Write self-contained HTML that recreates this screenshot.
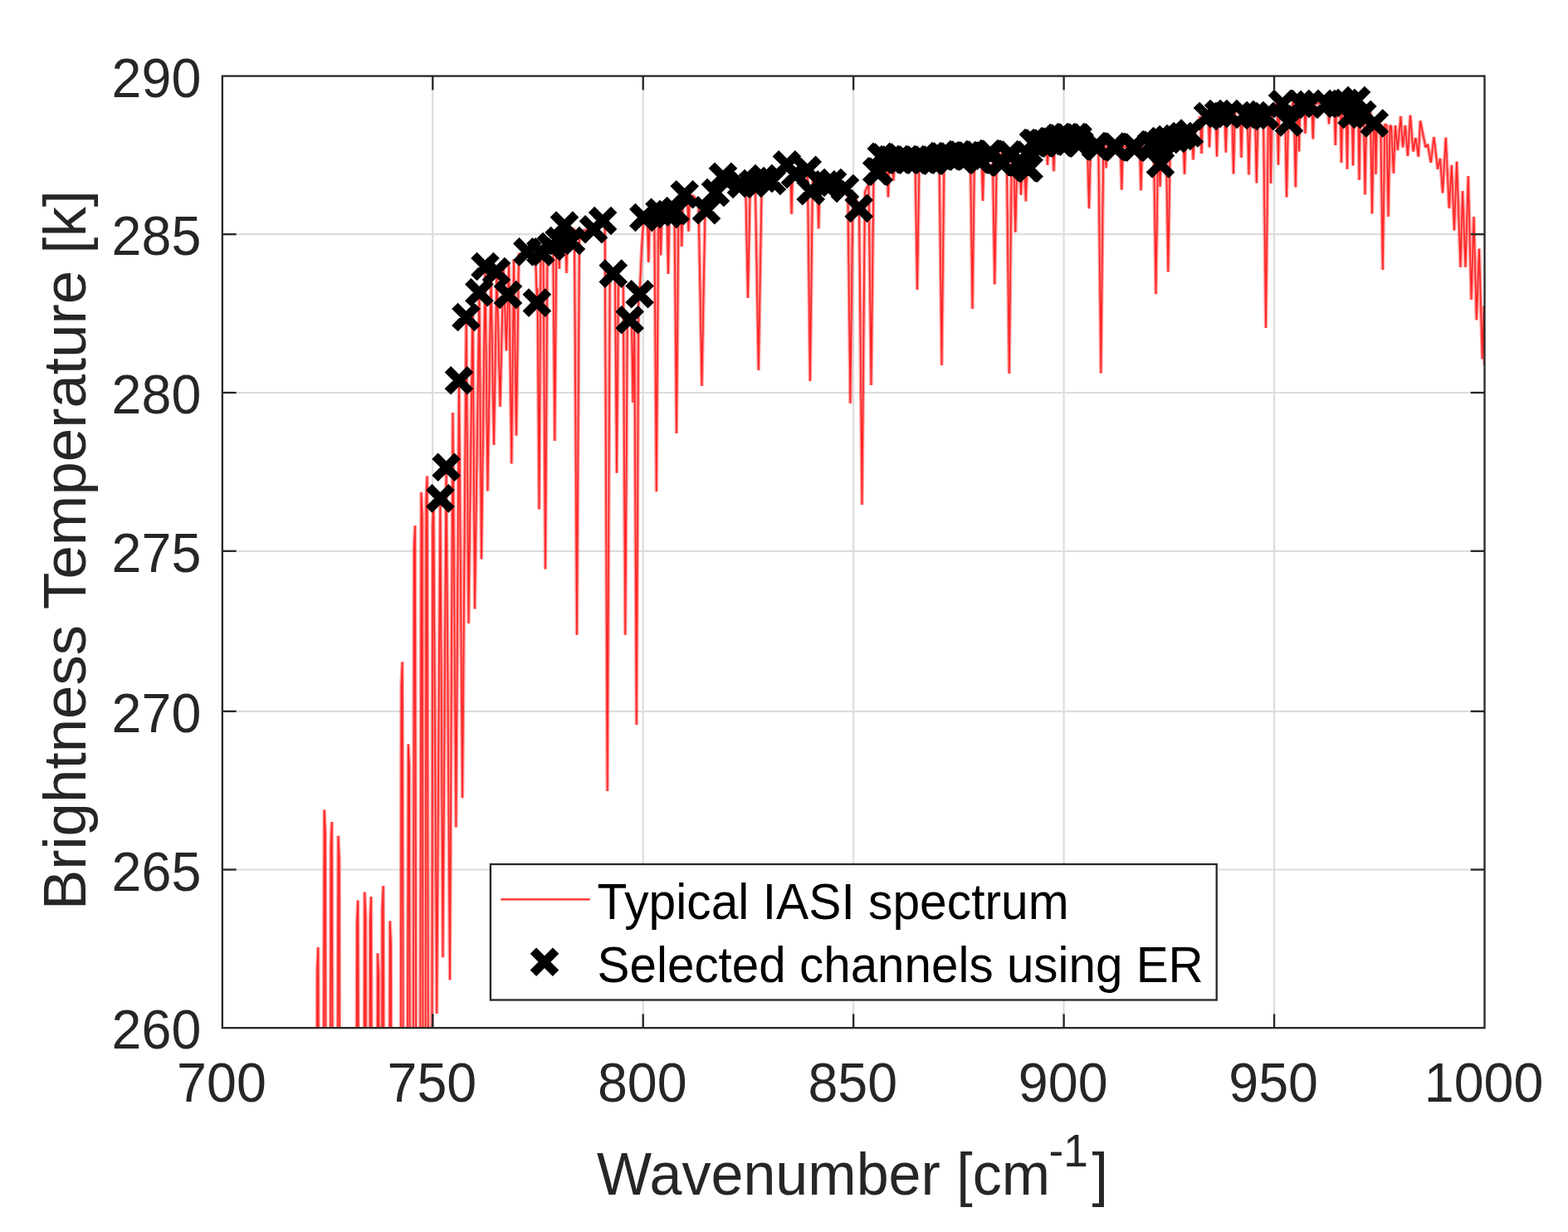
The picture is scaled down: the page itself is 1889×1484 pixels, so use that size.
<!DOCTYPE html>
<html lang="en"><head><meta charset="utf-8"><title>Typical IASI spectrum with selected channels</title>
<style>
html,body{margin:0;padding:0;background:#fff;}
body{width:1889px;height:1484px;overflow:hidden;font-family:"Liberation Sans",Arial,Helvetica,sans-serif;}
svg{display:block;}
text{font-family:"Liberation Sans",Arial,Helvetica,sans-serif;}
</style></head>
<body>
<svg width="1889" height="1484" viewBox="0 0 1889 1484">
<defs>
<clipPath id="ax"><rect x="267.85" y="91.6" width="1520.65" height="1146.5500000000002"/></clipPath>
</defs>
<rect width="1889" height="1484" fill="#fff"/>
<g stroke="#dddddd" stroke-width="2.2" fill="none"><line x1="521.29" y1="91" x2="521.29" y2="1238"/><line x1="774.73" y1="91" x2="774.73" y2="1238"/><line x1="1028.18" y1="91" x2="1028.18" y2="1238"/><line x1="1281.62" y1="91" x2="1281.62" y2="1238"/><line x1="1535.06" y1="91" x2="1535.06" y2="1238"/><line x1="267" y1="1047.5" x2="1788" y2="1047.5"/><line x1="267" y1="856.8" x2="1788" y2="856.8"/><line x1="267" y1="663.8" x2="1788" y2="663.8"/><line x1="267" y1="473" x2="1788" y2="473"/><line x1="267" y1="282.2" x2="1788" y2="282.2"/></g>
<g clip-path="url(#ax)">
<polyline points="380.6,1900 382.1,1169 383.3,1141 385.6,1900 388.4,1900 390.7,975.4 391.9,1003.4 393.4,1900 397.1,1900 398.6,1018 399.8,990 402.1,1900 405.2,1900 407.5,1006.7 408.7,1034.7 410.2,1900 428.5,1900 430,1112.6 431.2,1084.6 433.5,1900 437,1900 439.3,1074.5 440.5,1102.5 442,1900 444.4,1900 445.9,1108.1 447.1,1080.1 449.4,1900 452.7,1900 455,1148.2 456.2,1176.2 457.7,1900 459,1900 460.5,1095 461.7,1067 464,1900 467.5,1900 469.8,1109.4 471,1137.4 472.5,1900 482,1900 483.5,825.3 484.7,797.3 487,1900 489.6,1900 491.9,896.4 493.1,924.4 494.6,1900 497.3,1900 498.8,661 500,633 502.3,1900 505.2,1900 507.5,593 508.7,621 510.2,1900 511.9,1900 513.4,601.5 514.6,573.5 516.9,1900 519.6,1900 521.2,632 522.3,605 526.2,1221 530.4,600.4 533.5,1153.3 537.6,562.8 542,1180.6 545.5,497 549.4,996.6 553,458.3 557.1,961.2 561.7,382 564.5,751 569.5,365 572,733.5 577.4,352 580,673.5 584.5,321 587.5,591.5 591.5,330 595,536 598.5,327 602.5,490 606.5,322 610,422.5 613,318 616.3,558.5 619,312 622,524.8 625,306 628,306 635,303 645,304 646.9,364.6 647.5,347.29 649.5,613.5 651.5,303.17 652,303 654.5,301.44 657,685.5 659.5,298.31 660,298 666,292 666.3,291.79 668.3,531 670.3,288.93 672.3,287.5 673.8,324 675.3,282.07 680,272 681,272.4 682.5,329 684,273.6 690,276 692,276.4 695,764.8 698,277.6 700,278 715,276 726,266 728.7,267.8 731.7,953 734.7,334.87 738.8,329.6 740.5,333 741,333.4 743,569.8 745,336.6 745.5,337 750.5,342 750.8,344.51 753.3,764.8 755.8,386.33 756,388 758.7,385.3 761,392 761,392 762.5,485 764,395 764,395 764.3,393.06 766.8,873 769.3,360.65 769.4,360 770.6,354.3 773,300 775.4,262 779.8,260.17 781.3,316 782.8,258.92 785,258 788.3,257.34 790.8,592.3 793.3,256.34 794.5,256.1 796,307.5 797.5,255.72 803.5,255.06 805,330 806.5,254.72 812.5,254.06 815,522 817.5,245 819.8,240.4 821.3,297 822.8,236.64 825,234 828,234.6 829.5,278.7 831,235.2 835,236 841.5,242.91 845.5,465 849.5,251.41 851,253 858,240 862,232 871,213 880,216 893,222 898.2,221.63 901,359 903.8,221.23 907,221 909.8,219.71 913.8,446 917.8,216.02 920,215 930,216 940,205 948,198.4 952.1,201.11 953.6,258 955.1,203.09 958,205 972.7,204.8 972.9,206.06 975.9,459 978.9,220 980,215 984.7,217.19 986.2,275.5 987.7,218.59 995,222 1018,227 1021.4,229.27 1024.4,486 1027.4,233.27 1030,235 1034.7,251 1035,250.09 1038.5,608 1042,231 1046.5,222 1049.5,464 1052.5,211.25 1056,206 1062,189 1068.5,190.95 1070,237.4 1071.5,191.85 1072,192 1074.9,192.06 1076.4,217.5 1077.9,192.12 1102.5,192.61 1105,349 1107.5,192.71 1122,193 1131.5,188.68 1134.5,440 1137.5,187.86 1165,187 1169,186.7 1171.5,372 1174,186.33 1182.5,185.7 1184,242 1185.5,185.48 1192,185 1195.8,185.16 1198.3,342.5 1200.8,185.37 1212.8,185.87 1215.8,450 1218.8,188.1 1221.3,189.97 1223.3,280 1225.3,192.97 1228,195 1228.5,195.39 1230,235 1231.5,197.72 1234.3,199.9 1235.8,242.5 1237.3,200.73 1241,185 1245,172 1260.5,170.45 1262,198.8 1263.5,170.15 1265,170 1268,169.23 1269.5,206.3 1271,168.46 1284.5,165 1296,166 1309.5,175 1310,175.02 1312,251.3 1314,175.17 1323.3,175.51 1326.3,449.5 1329.3,175.73 1331,175.8 1332.5,202.5 1334,175.91 1349.8,176.49 1351.3,228.8 1352.8,176.6 1373,177.35 1374.5,229.5 1376,177.46 1377,177.5 1388,172 1390,175.71 1392.5,354.3 1395,185 1395,185 1396.3,190.42 1397.5,225 1398.7,192.25 1401,175 1404.8,169.93 1407.3,327.5 1409.8,166.81 1422,166 1425.5,164.83 1427,210 1428.5,163.83 1436,161.33 1437.5,192.5 1439,160.33 1440,160 1446,140 1446,140 1447.5,185 1449,134.75 1450,133 1455.5,133.28 1457,177.5 1458.5,133.43 1464.5,133.72 1466,188.8 1467.5,133.88 1470,134 1475.3,134 1476.8,183.8 1478.3,134 1484.2,134 1486,209.5 1487.8,134 1489,134 1494,134.83 1495.5,190 1497,135.33 1502.7,136.28 1504.5,210.5 1506.3,136.88 1510,137.5 1512,137.3 1513.8,220.5 1515.6,136.94 1522,136.3 1525,395 1528,133 1529.5,131.5 1531,221 1532.5,128.5 1535,126 1538.5,125 1540,198.8 1541.5,124.14 1542,124 1548,130 1548,130 1550,237.5 1552,142.97 1553.8,148.8 1557.5,123 1558.8,123.09 1560.8,225.5 1562.8,123.37 1563.8,123.44 1565,182.5 1566.2,123.61 1571,123.95 1572.5,161 1574,124.16 1580.3,124.6 1581.8,167.5 1583.3,124.81 1586,125 1599.5,123.22 1601,149.5 1602.5,122.83 1605,122.5 1607.3,122.3 1608.8,175 1610.3,122.03 1614.5,121.66 1616,196 1617.5,121.4 1621.5,121.04 1623,203.8 1624.5,120.38 1628.5,119.38 1630,199.5 1631.5,118.62 1634,118 1636,120.33 1637.5,217 1639,123.83 1640,125 1642.7,127.43 1644.5,234.5 1646.3,130.67 1650,134 1651,135.63 1653,257.5 1655,142.16 1656.3,144.28 1657.5,210 1658.7,148.19 1659.5,149.5 1663.3,149.72 1665.8,325 1668.3,150.07 1670.5,150.62 1672.5,261 1674.5,151.62 1676,152 1678.8,208.8 1681,151 1683.8,181 1687.5,140 1690,177.5 1693,151 1696,188 1699,138.8 1702.5,182.5 1705.5,166 1708.8,188.8 1711,145.5 1717.5,177.5 1720,173.8 1723.8,196 1727.5,165 1732,203.8 1735,191 1738,232.5 1741.8,165.5 1745.8,251 1748.8,198.8 1752,277.5 1755,194.5 1759.5,322 1762,230 1765.5,322 1768.8,212 1772.5,361 1775.5,261 1778.8,385.5 1782,299.5 1785.8,432.5 1787.5,368.8 1788.5,440" fill="none" stroke="#ff0000" stroke-opacity="0.38" stroke-width="4.4" stroke-linejoin="bevel"/>
<polyline points="380.6,1900 382.1,1169 383.3,1141 385.6,1900 388.4,1900 390.7,975.4 391.9,1003.4 393.4,1900 397.1,1900 398.6,1018 399.8,990 402.1,1900 405.2,1900 407.5,1006.7 408.7,1034.7 410.2,1900 428.5,1900 430,1112.6 431.2,1084.6 433.5,1900 437,1900 439.3,1074.5 440.5,1102.5 442,1900 444.4,1900 445.9,1108.1 447.1,1080.1 449.4,1900 452.7,1900 455,1148.2 456.2,1176.2 457.7,1900 459,1900 460.5,1095 461.7,1067 464,1900 467.5,1900 469.8,1109.4 471,1137.4 472.5,1900 482,1900 483.5,825.3 484.7,797.3 487,1900 489.6,1900 491.9,896.4 493.1,924.4 494.6,1900 497.3,1900 498.8,661 500,633 502.3,1900 505.2,1900 507.5,593 508.7,621 510.2,1900 511.9,1900 513.4,601.5 514.6,573.5 516.9,1900 519.6,1900 521.2,632 522.3,605 526.2,1221 530.4,600.4 533.5,1153.3 537.6,562.8 542,1180.6 545.5,497 549.4,996.6 553,458.3 557.1,961.2 561.7,382 564.5,751 569.5,365 572,733.5 577.4,352 580,673.5 584.5,321 587.5,591.5 591.5,330 595,536 598.5,327 602.5,490 606.5,322 610,422.5 613,318 616.3,558.5 619,312 622,524.8 625,306 628,306 635,303 645,304 646.9,364.6 647.5,347.29 649.5,613.5 651.5,303.17 652,303 654.5,301.44 657,685.5 659.5,298.31 660,298 666,292 666.3,291.79 668.3,531 670.3,288.93 672.3,287.5 673.8,324 675.3,282.07 680,272 681,272.4 682.5,329 684,273.6 690,276 692,276.4 695,764.8 698,277.6 700,278 715,276 726,266 728.7,267.8 731.7,953 734.7,334.87 738.8,329.6 740.5,333 741,333.4 743,569.8 745,336.6 745.5,337 750.5,342 750.8,344.51 753.3,764.8 755.8,386.33 756,388 758.7,385.3 761,392 761,392 762.5,485 764,395 764,395 764.3,393.06 766.8,873 769.3,360.65 769.4,360 770.6,354.3 773,300 775.4,262 779.8,260.17 781.3,316 782.8,258.92 785,258 788.3,257.34 790.8,592.3 793.3,256.34 794.5,256.1 796,307.5 797.5,255.72 803.5,255.06 805,330 806.5,254.72 812.5,254.06 815,522 817.5,245 819.8,240.4 821.3,297 822.8,236.64 825,234 828,234.6 829.5,278.7 831,235.2 835,236 841.5,242.91 845.5,465 849.5,251.41 851,253 858,240 862,232 871,213 880,216 893,222 898.2,221.63 901,359 903.8,221.23 907,221 909.8,219.71 913.8,446 917.8,216.02 920,215 930,216 940,205 948,198.4 952.1,201.11 953.6,258 955.1,203.09 958,205 972.7,204.8 972.9,206.06 975.9,459 978.9,220 980,215 984.7,217.19 986.2,275.5 987.7,218.59 995,222 1018,227 1021.4,229.27 1024.4,486 1027.4,233.27 1030,235 1034.7,251 1035,250.09 1038.5,608 1042,231 1046.5,222 1049.5,464 1052.5,211.25 1056,206 1062,189 1068.5,190.95 1070,237.4 1071.5,191.85 1072,192 1074.9,192.06 1076.4,217.5 1077.9,192.12 1102.5,192.61 1105,349 1107.5,192.71 1122,193 1131.5,188.68 1134.5,440 1137.5,187.86 1165,187 1169,186.7 1171.5,372 1174,186.33 1182.5,185.7 1184,242 1185.5,185.48 1192,185 1195.8,185.16 1198.3,342.5 1200.8,185.37 1212.8,185.87 1215.8,450 1218.8,188.1 1221.3,189.97 1223.3,280 1225.3,192.97 1228,195 1228.5,195.39 1230,235 1231.5,197.72 1234.3,199.9 1235.8,242.5 1237.3,200.73 1241,185 1245,172 1260.5,170.45 1262,198.8 1263.5,170.15 1265,170 1268,169.23 1269.5,206.3 1271,168.46 1284.5,165 1296,166 1309.5,175 1310,175.02 1312,251.3 1314,175.17 1323.3,175.51 1326.3,449.5 1329.3,175.73 1331,175.8 1332.5,202.5 1334,175.91 1349.8,176.49 1351.3,228.8 1352.8,176.6 1373,177.35 1374.5,229.5 1376,177.46 1377,177.5 1388,172 1390,175.71 1392.5,354.3 1395,185 1395,185 1396.3,190.42 1397.5,225 1398.7,192.25 1401,175 1404.8,169.93 1407.3,327.5 1409.8,166.81 1422,166 1425.5,164.83 1427,210 1428.5,163.83 1436,161.33 1437.5,192.5 1439,160.33 1440,160 1446,140 1446,140 1447.5,185 1449,134.75 1450,133 1455.5,133.28 1457,177.5 1458.5,133.43 1464.5,133.72 1466,188.8 1467.5,133.88 1470,134 1475.3,134 1476.8,183.8 1478.3,134 1484.2,134 1486,209.5 1487.8,134 1489,134 1494,134.83 1495.5,190 1497,135.33 1502.7,136.28 1504.5,210.5 1506.3,136.88 1510,137.5 1512,137.3 1513.8,220.5 1515.6,136.94 1522,136.3 1525,395 1528,133 1529.5,131.5 1531,221 1532.5,128.5 1535,126 1538.5,125 1540,198.8 1541.5,124.14 1542,124 1548,130 1548,130 1550,237.5 1552,142.97 1553.8,148.8 1557.5,123 1558.8,123.09 1560.8,225.5 1562.8,123.37 1563.8,123.44 1565,182.5 1566.2,123.61 1571,123.95 1572.5,161 1574,124.16 1580.3,124.6 1581.8,167.5 1583.3,124.81 1586,125 1599.5,123.22 1601,149.5 1602.5,122.83 1605,122.5 1607.3,122.3 1608.8,175 1610.3,122.03 1614.5,121.66 1616,196 1617.5,121.4 1621.5,121.04 1623,203.8 1624.5,120.38 1628.5,119.38 1630,199.5 1631.5,118.62 1634,118 1636,120.33 1637.5,217 1639,123.83 1640,125 1642.7,127.43 1644.5,234.5 1646.3,130.67 1650,134 1651,135.63 1653,257.5 1655,142.16 1656.3,144.28 1657.5,210 1658.7,148.19 1659.5,149.5 1663.3,149.72 1665.8,325 1668.3,150.07 1670.5,150.62 1672.5,261 1674.5,151.62 1676,152 1678.8,208.8 1681,151 1683.8,181 1687.5,140 1690,177.5 1693,151 1696,188 1699,138.8 1702.5,182.5 1705.5,166 1708.8,188.8 1711,145.5 1717.5,177.5 1720,173.8 1723.8,196 1727.5,165 1732,203.8 1735,191 1738,232.5 1741.8,165.5 1745.8,251 1748.8,198.8 1752,277.5 1755,194.5 1759.5,322 1762,230 1765.5,322 1768.8,212 1772.5,361 1775.5,261 1778.8,385.5 1782,299.5 1785.8,432.5 1787.5,368.8 1788.5,440" fill="none" stroke="#ff2626" stroke-width="1.7" stroke-linejoin="miter" stroke-miterlimit="2"/>
<path d="M516.8,586.8l27.2,27.2M516.8,614l27.2,-27.2M524,549.2l27.2,27.2M524,576.4l27.2,-27.2M539.4,444.7l27.2,27.2M539.4,471.9l27.2,-27.2M547.9,368.4l27.2,27.2M547.9,395.6l27.2,-27.2M563.8,338.7l27.2,27.2M563.8,365.9l27.2,-27.2M570.9,307.4l27.2,27.2M570.9,334.6l27.2,-27.2M584.4,313.4l27.2,27.2M584.4,340.6l27.2,-27.2M598.4,341.4l27.2,27.2M598.4,368.6l27.2,-27.2M621.8,289.8l27.2,27.2M621.8,317l27.2,-27.2M633.3,351l27.2,27.2M633.3,378.2l27.2,-27.2M637.7,289.8l27.2,27.2M637.7,317l27.2,-27.2M650.4,283.4l27.2,27.2M650.4,310.6l27.2,-27.2M660,276.4l27.2,27.2M660,303.6l27.2,-27.2M666.4,258l27.2,27.2M666.4,285.2l27.2,-27.2M674.4,276.4l27.2,27.2M674.4,303.6l27.2,-27.2M701.4,262.7l27.2,27.2M701.4,289.9l27.2,-27.2M712.5,252.4l27.2,27.2M712.5,279.6l27.2,-27.2M725.2,316l27.2,27.2M725.2,343.2l27.2,-27.2M745.1,371.7l27.2,27.2M745.1,398.9l27.2,-27.2M757,340.7l27.2,27.2M757,367.9l27.2,-27.2M761.8,248.4l27.2,27.2M761.8,275.6l27.2,-27.2M780.9,242.1l27.2,27.2M780.9,269.3l27.2,-27.2M791.4,244.4l27.2,27.2M791.4,271.6l27.2,-27.2M800,240.4l27.2,27.2M800,267.6l27.2,-27.2M811.1,220.6l27.2,27.2M811.1,247.8l27.2,-27.2M837.4,239.7l27.2,27.2M837.4,266.9l27.2,-27.2M848.4,218.4l27.2,27.2M848.4,245.6l27.2,-27.2M857.4,199.1l27.2,27.2M857.4,226.3l27.2,-27.2M879.4,208.4l27.2,27.2M879.4,235.6l27.2,-27.2M893.4,207.4l27.2,27.2M893.4,234.6l27.2,-27.2M906.4,201.4l27.2,27.2M906.4,228.6l27.2,-27.2M916.4,204.4l27.2,27.2M916.4,231.6l27.2,-27.2M934.4,184.8l27.2,27.2M934.4,212l27.2,-27.2M944.4,196.4l27.2,27.2M944.4,223.6l27.2,-27.2M959.1,191.2l27.2,27.2M959.1,218.4l27.2,-27.2M963.1,216.6l27.2,27.2M963.1,243.8l27.2,-27.2M981.4,208.7l27.2,27.2M981.4,235.9l27.2,-27.2M989.4,206.4l27.2,27.2M989.4,233.6l27.2,-27.2M1004.4,213.4l27.2,27.2M1004.4,240.6l27.2,-27.2M1021.1,237.3l27.2,27.2M1021.1,264.5l27.2,-27.2M1042.6,192.7l27.2,27.2M1042.6,219.9l27.2,-27.2M1048.2,175.3l27.2,27.2M1048.2,202.5l27.2,-27.2M1058.4,178.4l27.2,27.2M1058.4,205.6l27.2,-27.2M1068.4,178.4l27.2,27.2M1068.4,205.6l27.2,-27.2M1078.4,178.4l27.2,27.2M1078.4,205.6l27.2,-27.2M1088.4,178.4l27.2,27.2M1088.4,205.6l27.2,-27.2M1098.4,178.4l27.2,27.2M1098.4,205.6l27.2,-27.2M1108.4,179.4l27.2,27.2M1108.4,206.6l27.2,-27.2M1119.4,174.4l27.2,27.2M1119.4,201.6l27.2,-27.2M1129.4,174.4l27.2,27.2M1129.4,201.6l27.2,-27.2M1141.4,172.4l27.2,27.2M1141.4,199.6l27.2,-27.2M1151.4,173.4l27.2,27.2M1151.4,200.6l27.2,-27.2M1164.4,178.4l27.2,27.2M1164.4,205.6l27.2,-27.2M1178.4,171.4l27.2,27.2M1178.4,198.6l27.2,-27.2M1191.4,181.4l27.2,27.2M1191.4,208.6l27.2,-27.2M1202.2,172.4l27.2,27.2M1202.2,199.6l27.2,-27.2M1214.4,181.4l27.2,27.2M1214.4,208.6l27.2,-27.2M1223.4,188.4l27.2,27.2M1223.4,215.6l27.2,-27.2M1231.4,158.4l27.2,27.2M1231.4,185.6l27.2,-27.2M1241.4,158.4l27.2,27.2M1241.4,185.6l27.2,-27.2M1251.4,156.4l27.2,27.2M1251.4,183.6l27.2,-27.2M1261.4,152.4l27.2,27.2M1261.4,179.6l27.2,-27.2M1270.9,151.4l27.2,27.2M1270.9,178.6l27.2,-27.2M1282.4,151.4l27.2,27.2M1282.4,178.6l27.2,-27.2M1284.4,158.4l27.2,27.2M1284.4,185.6l27.2,-27.2M1306.4,162.4l27.2,27.2M1306.4,189.6l27.2,-27.2M1328.4,162.9l27.2,27.2M1328.4,190.1l27.2,-27.2M1351.4,163.4l27.2,27.2M1351.4,190.6l27.2,-27.2M1373.4,160.4l27.2,27.2M1373.4,187.6l27.2,-27.2M1384.4,183.9l27.2,27.2M1384.4,211.1l27.2,-27.2M1385.9,156.4l27.2,27.2M1385.9,183.6l27.2,-27.2M1393.4,154.4l27.2,27.2M1393.4,181.6l27.2,-27.2M1402.4,153.4l27.2,27.2M1402.4,180.6l27.2,-27.2M1410.4,150.4l27.2,27.2M1410.4,177.6l27.2,-27.2M1419.4,146.9l27.2,27.2M1419.4,174.1l27.2,-27.2M1441.4,126.4l27.2,27.2M1441.4,153.6l27.2,-27.2M1454.4,123.4l27.2,27.2M1454.4,150.6l27.2,-27.2M1466.4,123.4l27.2,27.2M1466.4,150.6l27.2,-27.2M1486.4,124.4l27.2,27.2M1486.4,151.6l27.2,-27.2M1498.4,125.4l27.2,27.2M1498.4,152.6l27.2,-27.2M1510.4,126.4l27.2,27.2M1510.4,153.6l27.2,-27.2M1531.4,111.4l27.2,27.2M1531.4,138.6l27.2,-27.2M1539.4,133.9l27.2,27.2M1539.4,161.1l27.2,-27.2M1553.4,111.4l27.2,27.2M1553.4,138.6l27.2,-27.2M1563.4,112.4l27.2,27.2M1563.4,139.6l27.2,-27.2M1584.4,111.4l27.2,27.2M1584.4,138.6l27.2,-27.2M1598.4,111.4l27.2,27.2M1598.4,138.6l27.2,-27.2M1608.4,110.4l27.2,27.2M1608.4,137.6l27.2,-27.2M1620.4,107.4l27.2,27.2M1620.4,134.6l27.2,-27.2M1615,124.4l27.2,27.2M1615,151.6l27.2,-27.2M1627.7,124.4l27.2,27.2M1627.7,151.6l27.2,-27.2M1642.2,134.9l27.2,27.2M1642.2,162.1l27.2,-27.2M1045.2,193.3l27.2,27.2M1045.2,220.5l27.2,-27.2M1050.8,175.9l27.2,27.2M1050.8,203.1l27.2,-27.2M1061,179l27.2,27.2M1061,206.2l27.2,-27.2M1071,179l27.2,27.2M1071,206.2l27.2,-27.2M1081,179l27.2,27.2M1081,206.2l27.2,-27.2M1091,179l27.2,27.2M1091,206.2l27.2,-27.2M1101,179l27.2,27.2M1101,206.2l27.2,-27.2M1111,180l27.2,27.2M1111,207.2l27.2,-27.2M1122,175l27.2,27.2M1122,202.2l27.2,-27.2M1132,175l27.2,27.2M1132,202.2l27.2,-27.2M1144,173l27.2,27.2M1144,200.2l27.2,-27.2M1154,174l27.2,27.2M1154,201.2l27.2,-27.2M1167,179l27.2,27.2M1167,206.2l27.2,-27.2M1181,172l27.2,27.2M1181,199.2l27.2,-27.2M1194,182l27.2,27.2M1194,209.2l27.2,-27.2M1204.8,173l27.2,27.2M1204.8,200.2l27.2,-27.2M1217,182l27.2,27.2M1217,209.2l27.2,-27.2M1226,189l27.2,27.2M1226,216.2l27.2,-27.2M1234,159l27.2,27.2M1234,186.2l27.2,-27.2M1244,159l27.2,27.2M1244,186.2l27.2,-27.2M1254,157l27.2,27.2M1254,184.2l27.2,-27.2M1264,153l27.2,27.2M1264,180.2l27.2,-27.2M1273.5,152l27.2,27.2M1273.5,179.2l27.2,-27.2M1285,152l27.2,27.2M1285,179.2l27.2,-27.2M1287,159l27.2,27.2M1287,186.2l27.2,-27.2M1309,163l27.2,27.2M1309,190.2l27.2,-27.2M1331,163.5l27.2,27.2M1331,190.7l27.2,-27.2M1354,164l27.2,27.2M1354,191.2l27.2,-27.2M1376,161l27.2,27.2M1376,188.2l27.2,-27.2" stroke="#000" stroke-width="10.5" fill="none"/>
</g>
<rect x="267.85" y="91.6" width="1520.65" height="1146.5500000000002" fill="none" stroke="#262626" stroke-width="2.3"/>
<g stroke="#262626" stroke-width="2.3" fill="none"><line x1="521.29" y1="1238" x2="521.29" y2="1221.35"/><line x1="521.29" y1="91" x2="521.29" y2="108.4"/><line x1="774.73" y1="1238" x2="774.73" y2="1221.35"/><line x1="774.73" y1="91" x2="774.73" y2="108.4"/><line x1="1028.18" y1="1238" x2="1028.18" y2="1221.35"/><line x1="1028.18" y1="91" x2="1028.18" y2="108.4"/><line x1="1281.62" y1="1238" x2="1281.62" y2="1221.35"/><line x1="1281.62" y1="91" x2="1281.62" y2="108.4"/><line x1="1535.06" y1="1238" x2="1535.06" y2="1221.35"/><line x1="1535.06" y1="91" x2="1535.06" y2="108.4"/><line x1="267" y1="1047.5" x2="284.65" y2="1047.5"/><line x1="1788" y1="1047.5" x2="1771.7" y2="1047.5"/><line x1="267" y1="856.8" x2="284.65" y2="856.8"/><line x1="1788" y1="856.8" x2="1771.7" y2="856.8"/><line x1="267" y1="663.8" x2="284.65" y2="663.8"/><line x1="1788" y1="663.8" x2="1771.7" y2="663.8"/><line x1="267" y1="473" x2="284.65" y2="473"/><line x1="1788" y1="473" x2="1771.7" y2="473"/><line x1="267" y1="282.2" x2="284.65" y2="282.2"/><line x1="1788" y1="282.2" x2="1771.7" y2="282.2"/></g>
<g fill="#262626"><text x="266.95" y="1327" font-size="66" text-anchor="middle" textLength="107.7" lengthAdjust="spacingAndGlyphs">700</text><text x="520.39" y="1327" font-size="66" text-anchor="middle" textLength="107.7" lengthAdjust="spacingAndGlyphs">750</text><text x="773.83" y="1327" font-size="66" text-anchor="middle" textLength="107.7" lengthAdjust="spacingAndGlyphs">800</text><text x="1027.28" y="1327" font-size="66" text-anchor="middle" textLength="107.7" lengthAdjust="spacingAndGlyphs">850</text><text x="1280.72" y="1327" font-size="66" text-anchor="middle" textLength="107.7" lengthAdjust="spacingAndGlyphs">900</text><text x="1534.16" y="1327" font-size="66" text-anchor="middle" textLength="107.7" lengthAdjust="spacingAndGlyphs">950</text><text x="1787.6" y="1327" font-size="66" text-anchor="middle" textLength="143.6" lengthAdjust="spacingAndGlyphs">1000</text><text x="242.3" y="1263.15" font-size="66" text-anchor="end" textLength="107.7" lengthAdjust="spacingAndGlyphs">260</text><text x="242.3" y="1072.5" font-size="66" text-anchor="end" textLength="107.7" lengthAdjust="spacingAndGlyphs">265</text><text x="242.3" y="881.8" font-size="66" text-anchor="end" textLength="107.7" lengthAdjust="spacingAndGlyphs">270</text><text x="242.3" y="688.8" font-size="66" text-anchor="end" textLength="107.7" lengthAdjust="spacingAndGlyphs">275</text><text x="242.3" y="498" font-size="66" text-anchor="end" textLength="107.7" lengthAdjust="spacingAndGlyphs">280</text><text x="242.3" y="307.2" font-size="66" text-anchor="end" textLength="107.7" lengthAdjust="spacingAndGlyphs">285</text><text x="242.3" y="116.6" font-size="66" text-anchor="end" textLength="107.7" lengthAdjust="spacingAndGlyphs">290</text></g>
<g fill="#262626"><text x="719" y="1439.3" font-size="72.5" textLength="546.16" lengthAdjust="spacingAndGlyphs">Wavenumber [cm</text><text x="1263.5" y="1405.3" font-size="56" textLength="47.3" lengthAdjust="spacingAndGlyphs">-1</text><text x="1315.4" y="1439.3" font-size="72.5" textLength="19.46" lengthAdjust="spacingAndGlyphs">]</text></g>
<text transform="translate(102.6,662.6) rotate(-90)" font-size="72.7" fill="#262626" text-anchor="middle">Brightness Temperature [k]</text>
<g>
<rect x="590.9" y="1041" width="874.8" height="163.5" fill="#fff" stroke="#262626" stroke-width="2.3"/>
<line x1="603.3" y1="1083.3" x2="710.7" y2="1083.3" stroke="#ff2626" stroke-width="2.2"/>
<path d="M642.4,1145.1l27.2,27.2M642.4,1172.3l27.2,-27.2" stroke="#000" stroke-width="10.5" fill="none"/>
<g fill="#000"><text x="719.6" y="1107" font-size="61" textLength="568.04" lengthAdjust="spacingAndGlyphs">Typical IASI spectrum</text><text x="719.6" y="1183.2" font-size="61" textLength="730.17" lengthAdjust="spacingAndGlyphs">Selected channels using ER</text></g>
</g>
</svg>
</body></html>
